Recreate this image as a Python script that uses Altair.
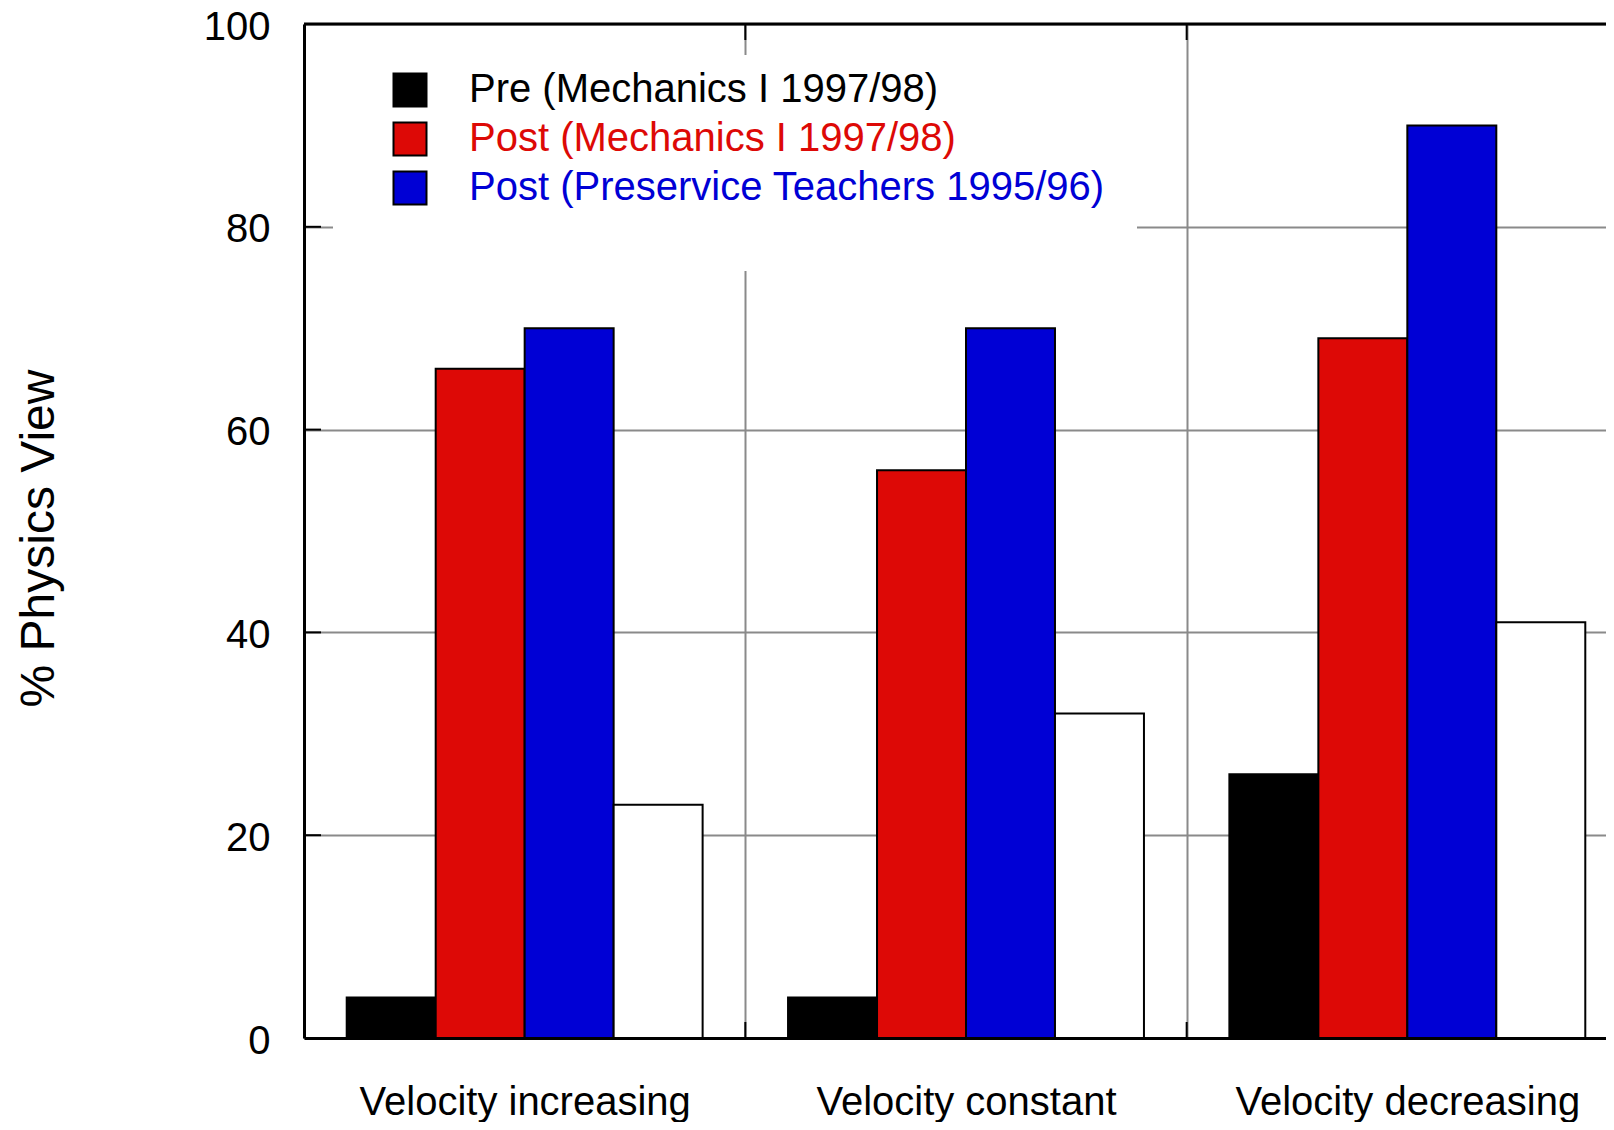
import altair as alt
import pandas as pd

categories = ["Velocity increasing", "Velocity constant", "Velocity decreasing"]
series = [
    "Pre (Mechanics I 1997/98)",
    "Post (Mechanics I 1997/98)",
    "Post (Preservice Teachers 1995/96)",
    "Other",
]
pre_mech = [4, 4, 26]
post_mech = [66, 56, 69]
post_preservice = [70, 70, 90]
other = [23, 32, 41]
colors = ["#000000", "#dd0906", "#0000d5", "#ffffff"]
y_ticks = [0, 20, 40, 60, 80, 100]
inner_ticks = [20, 40, 60, 80]

rows = []
for s, vals in zip(series, [pre_mech, post_mech, post_preservice, other]):
    for c, v in zip(categories, vals):
        rows.append({"category": c, "series": s, "value": v})
df = pd.DataFrame(rows)

FONT = "Liberation Sans"
W = 1302
RANGE_W = 1324
H = 1014

x_scale = alt.Scale(domain=categories, range=[0, RANGE_W], paddingInner=0, paddingOuter=0)
y_scale = alt.Scale(domain=[0, 100], nice=False)

label_color_expr = (
    "indexof(datum.label, 'Preservice') >= 0 ? '#0000d5' : "
    "(indexof(datum.label, 'Post') >= 0 ? '#dd0906' : '#000000')"
)

bars = alt.Chart(df).mark_bar(stroke="black", strokeWidth=2).encode(
    x=alt.X(
        "category:N",
        sort=categories,
        scale=x_scale,
        axis=alt.Axis(
            title=None,
            tickBand="extent",
            grid=True,
            gridColor="#8a8a8a",
            gridWidth=2,
            domainColor="black",
            domainWidth=3,
            ticks=False,
            labelFontSize=40,
            labelFont=FONT,
            labelPadding=44,
            labelColor="black",
            labelAngle=0,
            labelLimit=0,
        ),
    ),
    xOffset=alt.XOffset(
        "series:N", sort=series,
        scale=alt.Scale(domain=series, paddingInner=0, paddingOuter=0.48),
    ),
    y=alt.Y(
        "value:Q",
        scale=y_scale,
        axis=alt.Axis(
            values=y_ticks,
            title="% Physics View",
            titleFont=FONT,
            titleFontSize=48,
            titleFontWeight="normal",
            titleColor="black",
            titleAngle=270,
            titleX=-265,
            titleY=514,
            titleAlign="center",
            titleBaseline="middle",
            labelFontSize=40,
            labelFont=FONT,
            labelPadding=34,
            labelOffset=3,
            labelColor="black",
            ticks=False,
            grid=True,
            gridColor="#8a8a8a",
            gridWidth=2,
            domainColor="black",
            domainWidth=3,
        ),
    ),
    color=alt.Color(
        "series:N",
        scale=alt.Scale(domain=series, range=colors),
        legend=alt.Legend(
            values=series[:3],
            title=None,
            orient="none",
            legendX=86,
            legendY=46,
            padding=0,
            symbolType="square",
            symbolSize=1089,
            symbolStrokeColor="black",
            symbolStrokeWidth=2,
            symbolOpacity=1,
            labelFont=FONT,
            labelFontSize=40,
            labelOffset=39,
            labelLimit=0,
            rowPadding=7,
            labelColor={"expr": label_color_expr},
        ),
    ),
)

legend_bg = alt.Chart(pd.DataFrame({"category": [categories[0]]})).mark_rect(
    fill="white", stroke=None
).encode(
    x=alt.value(29), x2=alt.value(833), y=alt.value(31), y2=alt.value(247)
)

ytick_df = pd.DataFrame({"value": inner_ticks})
left_ticks = alt.Chart(ytick_df).mark_rule(color="black", strokeWidth=2).encode(
    y=alt.Y("value:Q", scale=y_scale), x=alt.value(0), x2=alt.value(17)
)
right_ticks = alt.Chart(ytick_df).mark_rule(color="black", strokeWidth=2).encode(
    y=alt.Y("value:Q", scale=y_scale), x=alt.value(RANGE_W - 17), x2=alt.value(RANGE_W)
)

xtick_df = pd.DataFrame({"category": categories[1:]})
top_ticks = alt.Chart(xtick_df).mark_rule(color="black", strokeWidth=2).encode(
    x=alt.X("category:N", scale=x_scale, bandPosition=0),
    y=alt.value(0), y2=alt.value(16),
)
bottom_ticks = alt.Chart(xtick_df).mark_rule(color="black", strokeWidth=2).encode(
    x=alt.X("category:N", scale=x_scale, bandPosition=0),
    y=alt.value(H - 16), y2=alt.value(H),
)

top_frame = alt.Chart(pd.DataFrame({"category": [categories[0]]})).mark_rule(
    color="black", strokeWidth=3
).encode(x=alt.value(0), x2=alt.value(RANGE_W), y=alt.value(0))

chart = alt.layer(
    legend_bg, bars, left_ticks, right_ticks, top_ticks, bottom_ticks, top_frame
).properties(
    width=W,
    height=H,
    autosize=alt.AutoSizeParams(type="none"),
    padding={"left": 296, "top": 16, "right": 0, "bottom": 84},
).configure_view(stroke=None).configure(font=FONT, background="white")

chart.save("out.html", embed_options={"renderer": "svg", "actions": False})
